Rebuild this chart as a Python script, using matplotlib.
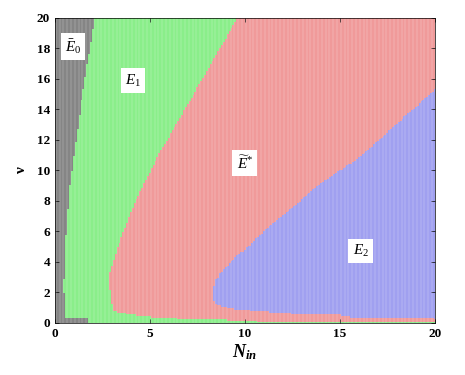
import numpy as np
import matplotlib
matplotlib.use("Agg")
import matplotlib.pyplot as plt
from matplotlib.colors import ListedColormap

plt.rcParams.update({
    'font.family': ['Liberation Serif', 'DejaVu Serif'],
    'mathtext.fontset': 'custom',
    'mathtext.rm': 'Liberation Serif',
    'mathtext.it': 'Liberation Serif:italic',
    'mathtext.bf': 'Liberation Serif:bold:italic',
    'mathtext.fallback': 'stix',
    'xtick.direction': 'in',
    'ytick.direction': 'in',
})

# boundary of the E0 (gray) region: N as a function of nu
gray_nu = [0.0, 0.5, 2.5, 5.1, 9.05, 14.6, 20.0]
gray_N = [0.53, 0.53, 0.49, 0.56, 0.80, 1.40, 2.10]
# small gray bump along the bottom
gray_bump_nu = 0.35
gray_bump_N = 1.75

# left edge of the E* (red) region: N as a function of nu
red_left_nu = [0.74, 1.0, 1.5, 2.6, 4.8, 7.9, 10.9, 15.2, 20.0]
red_left_N = [3.05, 2.8, 2.63, 2.72, 3.25, 4.2, 5.4, 7.4, 9.6]
# lower edge of the E* (red) region: nu as a function of N
red_low_N = [2.6, 3.05, 4.1, 5.0, 6.7, 8.5, 10.3, 11.0, 20.0]
red_low_nu = [5.0, 0.74, 0.52, 0.40, 0.28, 0.22, 0.15, 0.05, 0.05]

# E2 (blue) region: upper and lower edges, nu as a function of N
blue_N = [8.3, 8.45, 8.8, 9.5, 10.3, 11.05, 13.0, 13.9, 15.0, 16.0, 20.0]
blue_up = [1.9, 2.7, 3.4, 4.3, 5.1, 6.1, 8.1, 9.05, 10.0, 10.8, 15.3]
blue_low = [1.9, 1.3, 1.05, 0.9, 0.8, 0.72, 0.55, 0.53, 0.52, 0.32, 0.30]

labels = [r'$\bar{E}_0$', r'$E_1$', r'$\widetilde{E}^{*}$', r'$E_2$']
label_N = [0.95, 4.1, 10.0, 16.1]
label_nu = [18.1, 15.9, 10.5, 4.7]

region_colors = ['#858585', '#8aee8a', '#f09a9a', '#a0a0f0']

N = np.arange(0, 20.001, 0.1)
nu = np.arange(0, 20.001, 0.1)
NN, VV = np.meshgrid(N, nu)

gray = (NN < np.interp(VV, gray_nu, gray_N)) | ((VV < gray_bump_nu) & (NN < gray_bump_N))
blue = (NN >= blue_N[0]) & (VV <= np.interp(NN, blue_N, blue_up)) & (VV >= np.interp(NN, blue_N, blue_low)) & ~gray
red = (NN > np.interp(VV, red_left_nu, red_left_N)) & (VV > np.interp(NN, red_low_N, red_low_nu)) & ~gray & ~blue

region = np.ones_like(NN)          # 1 = E1 (green)
region[gray] = 0
region[red] = 2
region[blue] = 3

fig = plt.figure(figsize=(4.65, 3.75), dpi=100)
ax = fig.add_axes([0.118, 0.139, 0.817, 0.813])

ax.pcolormesh(NN, VV, region, cmap=ListedColormap(region_colors), vmin=-0.5, vmax=3.5,
              shading='nearest')
# dotted-grid look of the original: thin light gaps between the sample columns
ax.vlines(N[::2] + 0.05, 0, 20, colors='white', linewidth=0.35, alpha=0.45)

for t, x, y in zip(labels, label_N, label_nu):
    ax.text(x, y, t, fontsize=11, ha='center', va='center',
            bbox=dict(facecolor='white', edgecolor='none', pad=3))

ax.set_xlim(0, 20)
ax.set_ylim(0, 20)
ax.set_xticks([0, 5, 10, 15, 20])
ax.set_yticks(range(0, 21, 2))
ax.tick_params(top=True, right=True, length=3, width=0.5, labelsize=9.5)
for lab in ax.get_xticklabels() + ax.get_yticklabels():
    lab.set_fontweight('bold')
for s in ax.spines.values():
    s.set_linewidth(0.5)

ax.set_xlabel(r'$\mathbf{N}_{\mathbf{in}}$', fontsize=13, labelpad=2)
ax.set_ylabel('ν', fontsize=11, fontweight='bold', labelpad=6)

fig.savefig('out.png', dpi=100)
